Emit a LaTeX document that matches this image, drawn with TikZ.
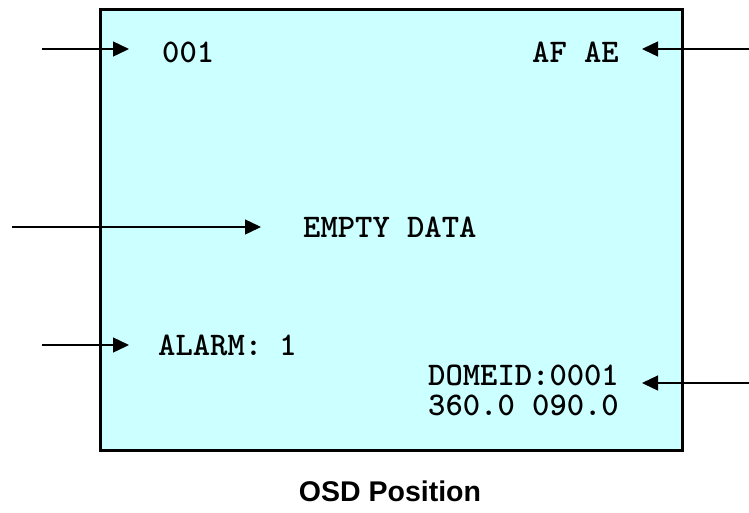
\documentclass[tikz,border=0pt]{standalone}
\usepackage{fontspec}
\usetikzlibrary{arrows.meta,positioning}
\newfontfamily\capfont{Liberation Sans}
\definecolor{screen}{RGB}{204,255,255}
\tikzstyle{tv} = [draw, line width=3pt, fill=screen, minimum width=582pt, minimum height=441pt, inner sep=0pt]
\tikzstyle{osd} = [inner sep=0pt, text=black, font=\ttfamily\bfseries\fontsize{33}{36}\selectfont]
\tikzstyle{ptr} = [draw, line width=1.4pt, -{Triangle[length=16pt,width=15pt]}]

\begin{document}
\begin{tikzpicture}[x=1pt,y=-1pt]
\useasboundingbox (0,0) rectangle (749,512);

% screen =============================
\node[tv] (tv) at (391,229.5) {};

% osd texts
\node[osd, anchor=west] (num) at (162,52) {001};
\node[osd, anchor=east] (focus) at (619,52) {AF AE};
\node[osd, anchor=west] (empty) at (303,227.5) {EMPTY DATA};
\node[osd, anchor=west] (alarm) at (158,345) {ALARM: 1};
\node[osd, anchor=east] (dome) at (619,375) {DOMEID:0001};
\node[osd, below=9pt of dome] (pos) {360.0 090.0};

% caption
\node[font=\capfont\bfseries\fontsize{28.5}{30}\selectfont] (cap) at (390,491) {OSD Position};

% arrows =============================
\coordinate (s1) at (42,49);
\coordinate (s2) at (749,49);
\coordinate (s3) at (12,227);
\coordinate (s4) at (42,345);
\coordinate (s5) at (749,383);

\path[ptr, shorten >=33pt] (s1) -- (s1 -| num.west);
\path[ptr, shorten >=23pt] (s2) -- (s2 -| focus.east);
\path[ptr, shorten >=42pt] (s3) -- (s3 -| empty.west);
\path[ptr, shorten >=29pt] (s4) -- (s4 -| alarm.west);
\path[ptr, shorten >=23pt] (s5) -- (s5 -| dome.east);

\end{tikzpicture}
\end{document}
